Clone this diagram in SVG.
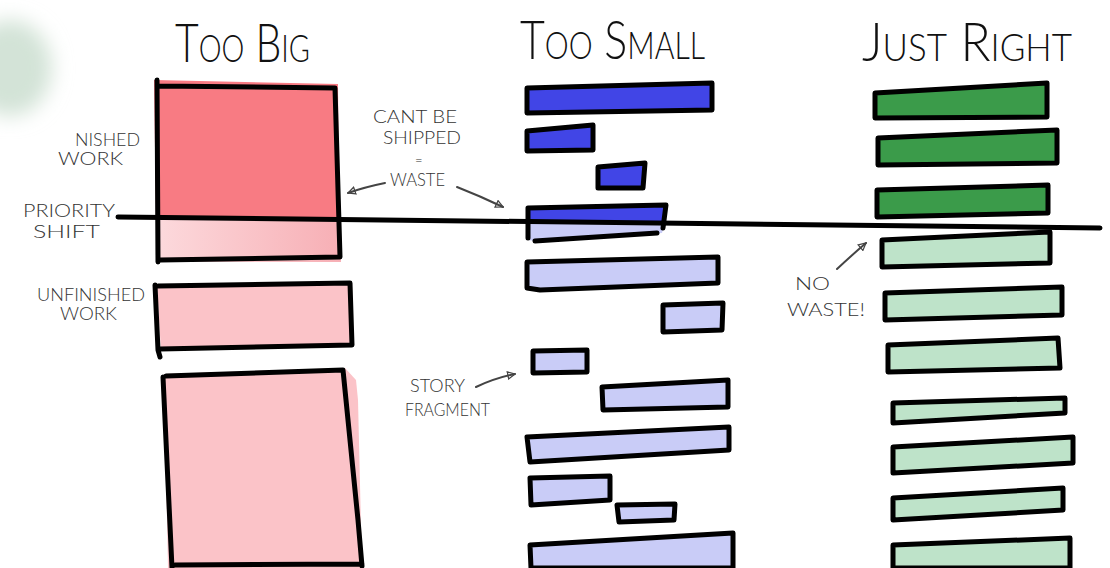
<svg xmlns="http://www.w3.org/2000/svg" width="1110" height="568" viewBox="0 0 1110 568">
<style>
.o{stroke:#000;stroke-width:5;stroke-linejoin:round;stroke-linecap:round}
.db{fill:#4145e6}.lb{fill:#c9ccf7}.dg{fill:#3b9b4a}.lg{fill:#bee3c9}
.dr{fill:#f87b83}.lr{fill:#fbc3c8}
.nf{fill:none}
.t{font-family:Lato,Inter,"Liberation Sans",Arial,sans-serif;font-weight:300;font-variant:small-caps;fill:#111;font-size:54px}
.l{font-family:Lato,Inter,"Liberation Sans",Arial,sans-serif;font-weight:300;fill:#333;font-size:17px}
.a{fill:none;stroke:#444;stroke-width:2;stroke-linecap:round;stroke-linejoin:round}
</style>
<defs>
<linearGradient id="pk" x1="0" y1="0" x2="1" y2="0">
<stop offset="0" stop-color="#fcd9dc"/><stop offset="1" stop-color="#f7afb5"/>
</linearGradient>
<filter id="blur" x="-50%" y="-50%" width="200%" height="200%"><feGaussianBlur stdDeviation="10"/></filter>
<marker id="ah" viewBox="0 0 10 10" refX="9" refY="5" markerWidth="9" markerHeight="9" orient="auto" markerUnits="userSpaceOnUse">
<path d="M1,1 L9,5 L1,9 Z" fill="none" stroke="#444" stroke-width="1.4"/>
</marker>
</defs>
<rect width="1110" height="568" fill="#fff"/>
<ellipse cx="10" cy="68" rx="42" ry="48" fill="#d3e3d7" filter="url(#blur)"/>

<g id="titles">
<text class="t" x="175" y="62" textLength="135" lengthAdjust="spacingAndGlyphs">Too Big</text>
<text class="t" x="520" y="59" textLength="185" lengthAdjust="spacingAndGlyphs">Too Small</text>
<text class="t" x="862" y="61" textLength="210" lengthAdjust="spacingAndGlyphs">Just Right</text>
</g>

<g id="too-big">
<g id="big-finished">
<path class="dr" d="M154,80 L338,84 L339,218 L156,218 Z"/>
<path fill="url(#pk)" d="M158,218 L339,218 L341,262 L160,262 Z"/>
<path class="o nf" d="M157,80 L158,262 M158,86 L335,88 L340,257 L160,260"/>
</g>
<g id="big-unfinished">
<path class="lr" d="M157,286 L352,282 L353,346 L161,351 Z"/>
<path class="o nf" d="M155,285 L158,350 L160,357 M158,286 L350,283 L352,345 L160,349"/>
</g>
<g id="big-block">
<path class="lr" d="M164,374 L345,368 L356,380 L358,400 L362,568 L168,568 Z"/>
<path class="o nf" d="M163,377 L172,568 M166,376 L343,370 L358,520 L362,566 M175,565 L362,564"/>
</g>
</g>

<g id="too-small">
<path class="o db" d="M527,88 L712,83 L712,110 L527,113 Z"/>
<path class="o db" d="M527,131 L593,125 L593,150 L527,151 Z"/>
<path class="o db" d="M598,167 L645,163 L643,188 L598,188 Z"/>
<g id="bar-split">
<path class="db" d="M528,208 L666,205 L665,221 L528,221 Z"/>
<path class="lb" d="M528,221 L665,221 L662,233 L535,241 L528,240 Z"/>
<path class="o nf" d="M528,208 L528,238 M528,208 L666,205 L663,228 M535,241 L657,233"/>
</g>
<path class="o lb" d="M527,262 L718,257 L718,283 L540,290 L527,288 Z"/>
<path class="o lb" d="M663,305 L723,303 L722,330 L663,332 Z"/>
<path class="o lb" d="M533,351 L587,350 L587,372 L533,373 Z"/>
<path class="o lb" d="M602,387 L728,380 L728,407 L603,410 Z"/>
<path class="o lb" d="M527,437 L729,427 L729,450 L530,462 Z"/>
<path class="o lb" d="M530,478 L610,476 L610,500 L531,505 Z"/>
<path class="o lb" d="M617,505 L675,504 L674,520 L619,522 Z"/>
<path class="o lb" d="M530,545 L733,533 L733,568 L531,568 Z"/>
</g>

<g id="just-right">
<path class="o dg" d="M875,93 L1047,83 L1047,117 L875,118 Z"/>
<path class="o dg" d="M878,138 L1057,130 L1057,163 L878,165 Z"/>
<path class="o dg" d="M877,190 L1048,185 L1048,213 L877,217 Z"/>
<path class="o lg" d="M882,240 L1050,232 L1050,263 L882,267 Z"/>
<path class="o lg" d="M885,293 L1062,287 L1062,315 L885,320 Z"/>
<path class="o lg" d="M888,345 L1058,338 L1060,368 L888,372 Z"/>
<path class="o lg" d="M893,403 L1065,398 L1065,413 L893,423 Z"/>
<path class="o lg" d="M893,447 L1073,437 L1073,463 L893,473 Z"/>
<path class="o lg" d="M893,498 L1063,488 L1063,510 L893,520 Z"/>
<path class="o lg" d="M893,545 L1070,538 L1070,568 L893,568 Z"/>
</g>

<g id="priority-line">
<path d="M118,217 L1100,228" stroke="#000" stroke-width="5" fill="none" stroke-linecap="round"/>
</g>

<g id="labels">
<text class="l" x="75" y="146" textLength="65" lengthAdjust="spacingAndGlyphs">NISHED</text>
<text class="l" x="58" y="165" textLength="65" lengthAdjust="spacingAndGlyphs">WORK</text>
<text class="l" x="23" y="217" textLength="92" lengthAdjust="spacingAndGlyphs">PRIORITY</text>
<text class="l" x="33" y="238" textLength="67" lengthAdjust="spacingAndGlyphs">SHIFT</text>
<text class="l" x="37" y="301" textLength="108" lengthAdjust="spacingAndGlyphs">UNFINISHED</text>
<text class="l" x="60" y="320" textLength="57" lengthAdjust="spacingAndGlyphs">WORK</text>
<text class="l" x="373" y="123" textLength="84" lengthAdjust="spacingAndGlyphs">CANT BE</text>
<text class="l" x="383" y="144" textLength="78" lengthAdjust="spacingAndGlyphs">SHIPPED</text>
<text class="l" x="415" y="165" style="font-size:13px">=</text>
<text class="l" x="390" y="186" textLength="55" lengthAdjust="spacingAndGlyphs">WASTE</text>
<text class="l" x="410" y="392" textLength="55" lengthAdjust="spacingAndGlyphs">STORY</text>
<text class="l" x="405" y="416" textLength="85" lengthAdjust="spacingAndGlyphs">FRAGMENT</text>
<text class="l" x="795" y="290" textLength="35" lengthAdjust="spacingAndGlyphs">NO</text>
<text class="l" x="787" y="316" textLength="78" lengthAdjust="spacingAndGlyphs">WASTE!</text>
</g>

<g id="connectors">
<path class="a" d="M385,183 Q365,187 348,193" marker-end="url(#ah)"/>
<path class="a" d="M457,187 Q480,196 503,207" marker-end="url(#ah)"/>
<path class="a" d="M476,387 Q495,378 515,374" marker-end="url(#ah)"/>
<path class="a" d="M837,269 Q852,255 866,243" marker-end="url(#ah)"/>
</g>
</svg>
